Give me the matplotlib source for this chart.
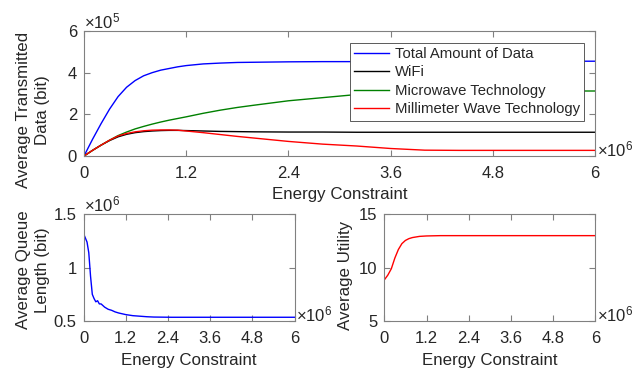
import matplotlib
matplotlib.use("Agg")
import matplotlib.pyplot as plt

plt.rcParams['font.family'] = ['Liberation Sans', 'DejaVu Sans']
plt.rcParams['text.color'] = '#262626'
plt.rcParams['axes.labelcolor'] = '#262626'

# energy constraint in units of 1e6, data in units of 1e5
energy = [0, 0.1, 0.2, 0.3, 0.4, 0.5, 0.6, 0.7, 0.8, 0.9, 1.0, 1.1, 1.2, 1.4, 1.6,
          1.8, 2.0, 2.4, 2.8, 3.2, 3.6, 4.0, 4.4, 4.8, 5.2, 5.6, 6.0]
total = [0, 0.8, 1.55, 2.25, 2.85, 3.3, 3.62, 3.85, 4.0, 4.12, 4.2, 4.28, 4.34, 4.42, 4.46,
         4.49, 4.5, 4.52, 4.53, 4.53, 4.54, 4.54, 4.55, 4.55, 4.55, 4.55, 4.55]
wifi = [0, 0.27, 0.52, 0.74, 0.92, 1.04, 1.12, 1.17, 1.2, 1.22, 1.23, 1.23, 1.22, 1.2, 1.18,
        1.17, 1.16, 1.15, 1.15, 1.14, 1.14, 1.14, 1.14, 1.14, 1.14, 1.14, 1.14]
microwave = [0, 0.27, 0.52, 0.76, 0.98, 1.15, 1.3, 1.42, 1.53, 1.63, 1.72, 1.8, 1.88, 2.05, 2.2,
             2.33, 2.44, 2.65, 2.8, 2.95, 3.05, 3.1, 3.12, 3.12, 3.12, 3.12, 3.12]
mmwave = [0, 0.27, 0.52, 0.76, 0.96, 1.08, 1.16, 1.21, 1.24, 1.25, 1.25, 1.24, 1.2, 1.12, 1.03,
          0.94, 0.86, 0.7, 0.57, 0.48, 0.36, 0.28, 0.27, 0.27, 0.27, 0.27, 0.27]
series_names = ['Total Amount of Data', 'WiFi', 'Microwave Technology', 'Millimeter Wave Technology']

# queue length in units of 1e6
energy_q = [0, 0.05, 0.1, 0.15, 0.2, 0.25, 0.3, 0.35, 0.4, 0.45, 0.5, 0.55, 0.6, 0.7, 0.8,
            0.9, 1.0, 1.2, 1.4, 1.6, 1.8, 2.0, 2.5, 3.0, 4.0, 5.0, 6.0]
queue = [1.32, 1.28, 1.24, 1.14, 0.92, 0.75, 0.71, 0.68, 0.69, 0.66, 0.66, 0.645, 0.63, 0.61, 0.6,
         0.585, 0.575, 0.56, 0.55, 0.545, 0.54, 0.537, 0.535, 0.535, 0.535, 0.535, 0.535]

energy_u = [0, 0.1, 0.2, 0.3, 0.4, 0.5, 0.6, 0.7, 0.8, 1.0, 1.2, 1.6, 2.0, 3.0, 4.0, 5.0, 6.0]
utility = [8.85, 9.3, 9.9, 10.9, 11.7, 12.25, 12.55, 12.72, 12.82, 12.93, 12.97, 13.0, 13.0,
           13.0, 13.0, 13.0, 13.0]

W, H = 636, 370
TICK_FS = 12
LABEL_FS = 12.2
fig = plt.figure(figsize=(W / 100, H / 100), dpi=100)


def box(left, top, right, bottom):
    return [left / W, 1 - bottom / H, (right - left) / W, (bottom - top) / H]


def style(ax):
    for s in ax.spines.values():
        s.set_color('#808080')
        s.set_linewidth(0.8)
    ax.tick_params(direction='in', top=True, right=True, length=4, width=0.8,
                   color='#808080', labelcolor='#262626', labelsize=TICK_FS)
    ax.tick_params(axis='x', pad=7)
    ax.tick_params(axis='y', pad=5)


def mult(ax, txt, x, y):
    ax.text(x, y, '×' + r'$\mathregular{10^{%s}}$' % txt, transform=ax.transAxes,
            ha='left', va='center', fontsize=TICK_FS, color='#262626')


xticks = [0, 1.2, 2.4, 3.6, 4.8, 6]
xlabels = ['0', '1.2', '2.4', '3.6', '4.8', '6']

ax1 = fig.add_axes(box(84, 31, 595, 156))
ax1.plot(energy, total, color='#0000ff', lw=1.0, label=series_names[0])
ax1.plot(energy, wifi, color='black', lw=1.0, label=series_names[1])
ax1.plot(energy, microwave, color='#008000', lw=1.0, label=series_names[2])
ax1.plot(energy, mmwave, color='#ff0000', lw=1.0, label=series_names[3])
ax1.set_xlim(0, 6)
ax1.set_ylim(0, 6)
ax1.set_xticks(xticks, xlabels)
ax1.set_yticks([0, 2, 4, 6], ['0', '2', '4', '6'])
style(ax1)
ax1.set_xlabel('Energy Constraint', fontsize=LABEL_FS)
ax1.xaxis.set_label_coords(0.5, -0.25)
ax1.set_ylabel('Average Transmitted\nData (bit)', fontsize=LABEL_FS, linespacing=1.35)
ax1.yaxis.set_label_coords(-0.066, 0.37)
mult(ax1, '5', 0.0, 1.075)
mult(ax1, '6', 1.004, 0.056)
leg = ax1.legend(loc='upper left', bbox_to_anchor=(350 / W, 1 - 42.5 / H),
                 bbox_transform=fig.transFigure, fontsize=10.7, fancybox=False,
                 framealpha=1, edgecolor='#404040', handlelength=2.3,
                 labelspacing=0.3, borderpad=0.3, handletextpad=0.4, borderaxespad=0)
leg.get_frame().set_linewidth(0.6)

ax2 = fig.add_axes(box(83.5, 214.3, 294.7, 321))
ax2.plot(energy_q, queue, color='#0000ff', lw=1.0)
ax2.set_xlim(0, 6)
ax2.set_ylim(0.5, 1.5)
ax2.set_xticks(xticks, xlabels)
ax2.set_yticks([0.5, 1, 1.5], ['0.5', '1', '1.5'])
style(ax2)
ax2.set_xlabel('Energy Constraint', fontsize=LABEL_FS)
ax2.xaxis.set_label_coords(0.5, -0.304)
ax2.set_ylabel('Average Queue\nLength (bit)', fontsize=LABEL_FS, linespacing=1.35)
ax2.yaxis.set_label_coords(-0.159, 0.48)
mult(ax2, '6', 0.0, 1.09)
mult(ax2, '6', 1.006, 0.057)

ax3 = fig.add_axes(box(384.3, 214.3, 595.3, 321))
ax3.plot(energy_u, utility, color='#ff0000', lw=1.0)
ax3.set_xlim(0, 6)
ax3.set_ylim(5, 15)
ax3.set_xticks(xticks, xlabels)
ax3.set_yticks([5, 10, 15], ['5', '10', '15'])
style(ax3)
ax3.set_xlabel('Energy Constraint', fontsize=LABEL_FS)
ax3.xaxis.set_label_coords(0.5, -0.304)
ax3.set_ylabel('Average Utility', fontsize=LABEL_FS)
ax3.yaxis.set_label_coords(-0.147, 0.43)
mult(ax3, '6', 1.006, 0.057)

fig.savefig('out.png', dpi=100)
